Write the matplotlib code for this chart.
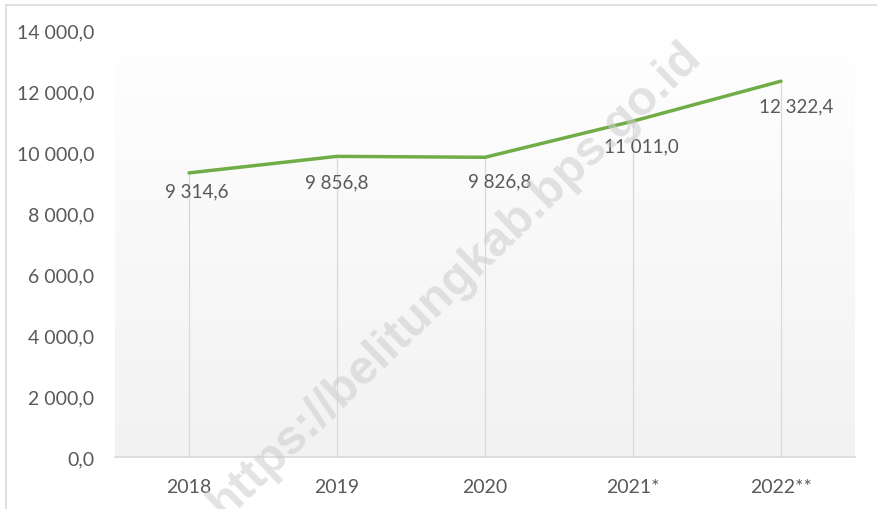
import numpy as np
import matplotlib
matplotlib.use("Agg")
from matplotlib import pyplot as plt
from matplotlib.patches import Rectangle
from matplotlib.colors import LinearSegmentedColormap

years = ["2018", "2019", "2020", "2021*", "2022**"]
values = [9314.6, 9856.8, 9826.8, 11011.0, 12322.4]
y_ticks = [0, 2000, 4000, 6000, 8000, 10000, 12000, 14000]

# label nudges in pixels (dx, dy)
label_offsets = [(8, -18), (0, -26), (15, -24), (8, -25), (15, -25)]

text_color = "#595959"
line_color = "#70ad47"
font = "Lato"


def fmt(v):
    # 12 322,4 style numbers
    s = "{:,.1f}".format(v)
    return s.replace(",", " ").replace(".", ",")


fig = plt.figure(figsize=(8.78, 5.10), dpi=100)
ax = fig.add_axes([115 / 878, 1 - 458 / 510, 740 / 878, 427 / 510])

x = np.arange(len(years))
ax.set_xlim(-0.5, len(years) - 0.5)
ax.set_ylim(0, 14000)

# plot area fill: white on top fading to light grey
cmap = LinearSegmentedColormap.from_list("bg", ["#f2f2f2", "#ffffff"])
grad = np.linspace(0, 1, 256).reshape(-1, 1)
ax.imshow(grad, cmap=cmap, origin="lower", aspect="auto",
          extent=[-0.5, len(years) - 0.5, 0, 14000], zorder=0)

# drop lines from each point down to the axis
ax.vlines(x, 0, values, color="#d9d9d9", linewidth=0.9, zorder=1)

ax.plot(x, values, color=line_color, linewidth=2.5, solid_capstyle="round", zorder=3)

for xi, v, (dx, dy) in zip(x, values, label_offsets):
    ax.annotate(fmt(v), (xi, v), xytext=(dx, dy), textcoords="offset pixels",
                ha="center", va="center", fontsize=13.5, color=text_color,
                family=font, zorder=4)

ax.set_xticks(x)
ax.set_xticklabels(years)
ax.set_yticks(y_ticks)
ax.set_yticklabels([fmt(t) for t in y_ticks])
ax.tick_params(axis="both", length=0, labelsize=14, labelcolor=text_color)
ax.tick_params(axis="y", pad=15)
ax.tick_params(axis="x", pad=15)
for lbl in ax.get_xticklabels() + ax.get_yticklabels():
    lbl.set_family(font)

for side in ["top", "right", "left"]:
    ax.spines[side].set_visible(False)
ax.spines["bottom"].set_color("#d9d9d9")
ax.spines["bottom"].set_linewidth(1.2)

# chart border
fig.add_artist(Rectangle((6.5 / 878, -0.05), 1.1, 1.05 - 5.5 / 510,
                         transform=fig.transFigure, fill=False,
                         edgecolor="#d9d9d9", linewidth=1.2))

# watermark
fig.text(455 / 878, 1 - 280 / 510, "https://belitungkab.bps.go.id",
         rotation=44, ha="center", va="center", fontsize=35,
         fontweight="bold", family="Liberation Sans", color="#cccccc",
         alpha=0.55, zorder=10)

fig.savefig("out.png", dpi=100)
